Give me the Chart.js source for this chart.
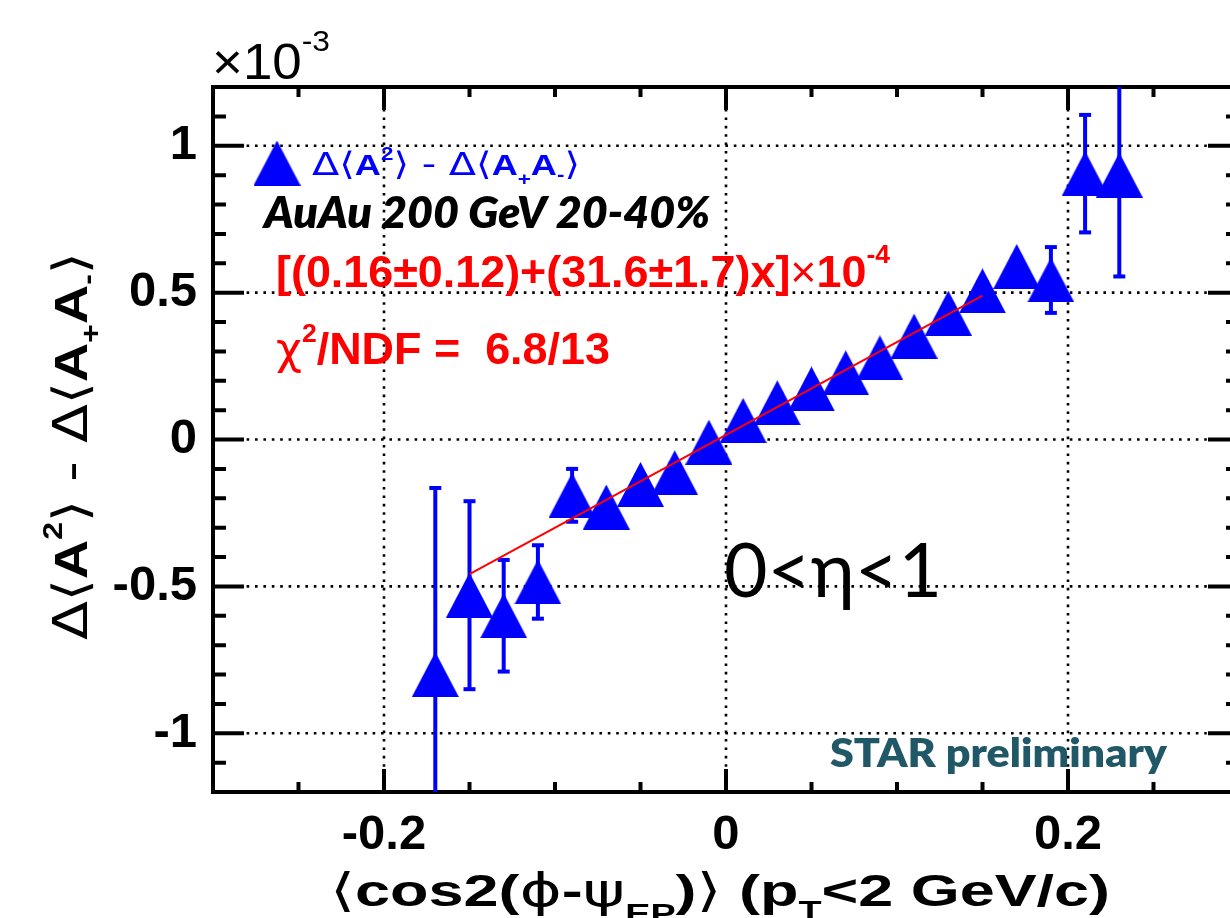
<!DOCTYPE html>
<html lang="en">
<head>
<meta charset="UTF-8">
<title>Delta A2 vs cos2(phi-psi)</title>
<script src="https://cdn.jsdelivr.net/npm/chart.js"></script>
<style>
  html, body { margin: 0; padding: 0; background: #fff; overflow: hidden; }
  #wrap { width: 1260px; height: 918px; }
</style>
</head>
<body>
<div id="wrap"><canvas id="plot" width="1260" height="918"></canvas></div>
<script>
// data (y in units of 1e-3)
const xVals = [-0.17, -0.15, -0.13, -0.11, -0.09, -0.07, -0.05, -0.03, -0.01, 0.01, 0.03,
               0.05, 0.07, 0.09, 0.11, 0.13, 0.15, 0.17, 0.19, 0.21, 0.23];
const yVals = [-0.80, -0.53, -0.60, -0.485, -0.19, -0.23, -0.153, -0.113, -0.009, 0.065, 0.125,
               0.172, 0.227, 0.278, 0.352, 0.43, 0.506, 0.589, 0.543, 0.905, 0.90];
const yErr  = [0.635, 0.32, 0.19, 0.125, 0.09, 0.03, 0.03, 0.03, 0.03, 0.03, 0.03,
               0.03, 0.03, 0.03, 0.03, 0.03, 0.03, 0.03, 0.112, 0.20, 0.345];
// fit line end points
const fitX = [-0.15, 0.15];
const fitY = [-0.458, 0.49];

const xTicks = [-0.2, 0, 0.2];
const xTickLabels = ['-0.2', '0', '0.2'];
const yTicks = [-1, -0.5, 0, 0.5, 1];
const yTickLabels = ['-1', '-0.5', '0', '0.5', '1'];
const xMinorStep = 0.05, yMinorStep = 0.1;

const HELV = '"Liberation Sans", Arial, sans-serif';
const CAL = 'Lato, "Open Sans", sans-serif';
const SYM = '"DejaVu Sans", sans-serif';
const BLUE = '#0000ff';

// triangle marker
const tri = document.createElement('canvas');
tri.width = 47; tri.height = 45;
(function () {
  const c = tri.getContext('2d');
  c.fillStyle = BLUE;
  c.beginPath();
  c.moveTo(0, 45); c.lineTo(23.5, 0); c.lineTo(47, 45); c.closePath();
  c.fill();
})();

function rich(ctx, segs, x, y, targetW, color) {
  let total = 0;
  segs.forEach(s => { ctx.font = s.font; s.w = ctx.measureText(s.t).width; total += s.w; });
  const k = targetW ? targetW / total : 1;
  ctx.save();
  ctx.translate(x, y);
  ctx.scale(k, 1);
  ctx.fillStyle = color;
  ctx.textBaseline = 'alphabetic';
  ctx.textAlign = 'left';
  let cx = 0;
  segs.forEach(s => { ctx.font = s.font; ctx.fillText(s.t, cx, s.dy || 0); cx += s.w; });
  ctx.restore();
}

const rootFrame = {
  id: 'rootFrame',
  beforeDatasetsDraw(chart) {
    const ctx = chart.ctx, a = chart.chartArea;
    const xs = chart.scales.x, ys = chart.scales.y;
    ctx.save();
    // dotted grid
    ctx.strokeStyle = '#000';
    ctx.lineWidth = 2.6;
    ctx.setLineDash([2.6, 5.8]);
    xTicks.forEach(v => {
      const p = xs.getPixelForValue(v);
      ctx.beginPath(); ctx.moveTo(p, a.bottom); ctx.lineTo(p, a.top); ctx.stroke();
    });
    yTicks.forEach(v => {
      const p = ys.getPixelForValue(v);
      ctx.beginPath(); ctx.moveTo(a.left, p); ctx.lineTo(a.right, p); ctx.stroke();
    });
    ctx.setLineDash([]);
    // frame
    ctx.lineWidth = 4;
    ctx.strokeRect(a.left, a.top, a.right - a.left, a.bottom - a.top);
    // ticks
    for (let v = -0.3; v <= 0.3001; v += xMinorStep) {
      const p = xs.getPixelForValue(v);
      const major = Math.abs(v / 0.2 - Math.round(v / 0.2)) < 1e-6;
      const len = major ? 23 : 10;
      ctx.beginPath();
      ctx.moveTo(p, a.bottom); ctx.lineTo(p, a.bottom - len);
      ctx.moveTo(p, a.top); ctx.lineTo(p, a.top + len);
      ctx.stroke();
    }
    for (let v = -1.2; v <= 1.2001; v += yMinorStep) {
      const p = ys.getPixelForValue(v);
      const major = Math.abs(v / 0.5 - Math.round(v / 0.5)) < 1e-6;
      const len = major ? 31 : 13;
      ctx.beginPath();
      ctx.moveTo(a.left, p); ctx.lineTo(a.left + len, p);
      ctx.moveTo(a.right, p); ctx.lineTo(a.right - len, p);
      ctx.stroke();
    }
    // error bars
    ctx.beginPath();
    ctx.rect(a.left, a.top, a.right - a.left, a.bottom - a.top);
    ctx.clip();
    ctx.strokeStyle = BLUE;
    ctx.lineWidth = 4;
    xVals.forEach((xv, i) => {
      const px = xs.getPixelForValue(xv);
      const pt = ys.getPixelForValue(yVals[i] + yErr[i]);
      const pb = ys.getPixelForValue(yVals[i] - yErr[i]);
      ctx.beginPath(); ctx.moveTo(px, pt); ctx.lineTo(px, pb); ctx.stroke();
      [pt, pb].forEach(p => {
        if (p > a.top + 2 && p < a.bottom - 2) {
          ctx.beginPath(); ctx.moveTo(px - 6, p); ctx.lineTo(px + 6, p); ctx.stroke();
        }
      });
    });
    ctx.restore();
  },
  afterDraw(chart) {
    const ctx = chart.ctx;
    ctx.save();
    // x10^-3
    rich(ctx, [
      { t: '\u00d710', font: `normal 50px ${HELV}` },
      { t: '-3', font: `normal 30px ${HELV}`, dy: -28 }
    ], 212, 79, 118, '#000');
    // legend
    ctx.drawImage(tri, 277 - 23.5, 163 - 22.5);
    const lf = `bold 29px ${HELV}`, ln = `normal 32px ${SYM}`, ls = `bold 18px ${HELV}`;
    rich(ctx, [
      { t: '\u0394\u27e8', font: ln }, { t: 'A', font: lf },
      { t: '2', font: ls, dy: -15 },
      { t: '\u27e9 - \u0394\u27e8', font: ln }, { t: 'A', font: lf },
      { t: '+', font: ls, dy: 10 }, { t: 'A', font: lf },
      { t: '-', font: ls, dy: 6 }, { t: '\u27e9', font: ln }
    ], 312, 175, 268, BLUE);
    // labels
    rich(ctx, [{ t: 'AuAu 200 GeV 20-40%', font: `italic 800 44px ${CAL}` }], 264, 228, 446, '#000');
    rich(ctx, [
      { t: '[(0.16\u00b10.12)+(31.6\u00b11.7)x]', font: `bold 44px ${HELV}` },
      { t: '\u00d7', font: `normal 44px ${HELV}` },
      { t: '10', font: `bold 44px ${HELV}` },
      { t: '-4', font: `bold 26px ${HELV}`, dy: -24 }
    ], 276, 287, 614, '#ff0000');
    rich(ctx, [
      { t: '\u03c7', font: `normal 44px ${SYM}` },
      { t: '2', font: `bold 26px ${HELV}`, dy: -22 },
      { t: '/NDF =  6.8/13', font: `bold 44px ${HELV}` }
    ], 276, 364, 334, '#ff0000');
    rich(ctx, [{ t: '0<\u03b7<1', font: `normal 76px ${CAL}` }], 724, 597, 218, '#000');
    rich(ctx, [{ t: 'STAR preliminary', font: `800 40px ${CAL}` }], 830, 767, 337, '#215868');
    // y title
    ctx.save();
    ctx.translate(87, 640);
    ctx.rotate(-Math.PI / 2);
    const tb = `bold 46px ${HELV}`, tn = `normal 48px ${SYM}`, ts = `bold 27px ${HELV}`;
    rich(ctx, [
      { t: '\u0394\u27e8', font: tn }, { t: 'A', font: tb },
      { t: '2', font: ts, dy: -25 },
      { t: '\u27e9 - \u0394\u27e8', font: tn }, { t: 'A', font: tb },
      { t: '+', font: ts, dy: 13 }, { t: 'A', font: tb },
      { t: '-', font: ts, dy: 10 }, { t: '\u27e9', font: tn }
    ], 0, 0, 388, '#000');
    ctx.restore();
    // x title
    const xb = `bold 45px ${HELV}`, xn = `normal 46px ${SYM}`, xs2 = `bold 27px ${HELV}`;
    rich(ctx, [
      { t: '\u27e8', font: xn }, { t: 'cos2(', font: xb },
      { t: '\u03d5', font: xn }, { t: '-', font: xb }, { t: '\u03c8', font: xn },
      { t: 'EP', font: xs2, dy: 17 }, { t: ')', font: xb }, { t: '\u27e9', font: xn },
      { t: ' (p', font: xb }, { t: 'T', font: xs2, dy: 14 },
      { t: '<2 GeV/c)', font: xb }
    ], 330, 906, 780, '#000');
    ctx.restore();
  }
};

new Chart(document.getElementById('plot'), {
  type: 'scatter',
  data: {
    datasets: [
      {
        label: 'fit',
        data: fitX.map((x, i) => ({ x: x, y: fitY[i] })),
        showLine: true,
        borderColor: '#ff0000',
        borderWidth: 2,
        pointRadius: 0
      },
      {
        label: 'data',
        data: xVals.map((x, i) => ({ x: x, y: yVals[i] })),
        pointStyle: tri,
        pointRadius: 20,
        showLine: false
      }
    ]
  },
  options: {
    responsive: false,
    animation: false,
    events: [],
    layout: { padding: { top: 87, right: 20, left: 0, bottom: 0 } },
    plugins: { legend: { display: false }, tooltip: { enabled: false } },
    scales: {
      x: {
        type: 'linear', min: -0.3, max: 0.3,
        grid: { display: false }, border: { display: false },
        afterBuildTicks: s => { s.ticks = xTicks.map(v => ({ value: v })); },
        afterFit: s => { s.height = 126; },
        ticks: {
          padding: 6, maxRotation: 0,
          color: '#000',
          font: { family: HELV, size: 49, weight: 'bold' },
          callback: v => xTickLabels[xTicks.indexOf(v)]
        }
      },
      y: {
        type: 'linear', min: -1.2, max: 1.2,
        grid: { display: false }, border: { display: false },
        afterBuildTicks: s => { s.ticks = yTicks.map(v => ({ value: v })); },
        afterFit: s => { s.width = 213; },
        ticks: {
          padding: 8,
          color: '#000',
          font: { family: HELV, size: 49, weight: 'bold' },
          callback: v => yTickLabels[yTicks.indexOf(v)]
        }
      }
    }
  },
  plugins: [rootFrame]
});
</script>
</body>
</html>
